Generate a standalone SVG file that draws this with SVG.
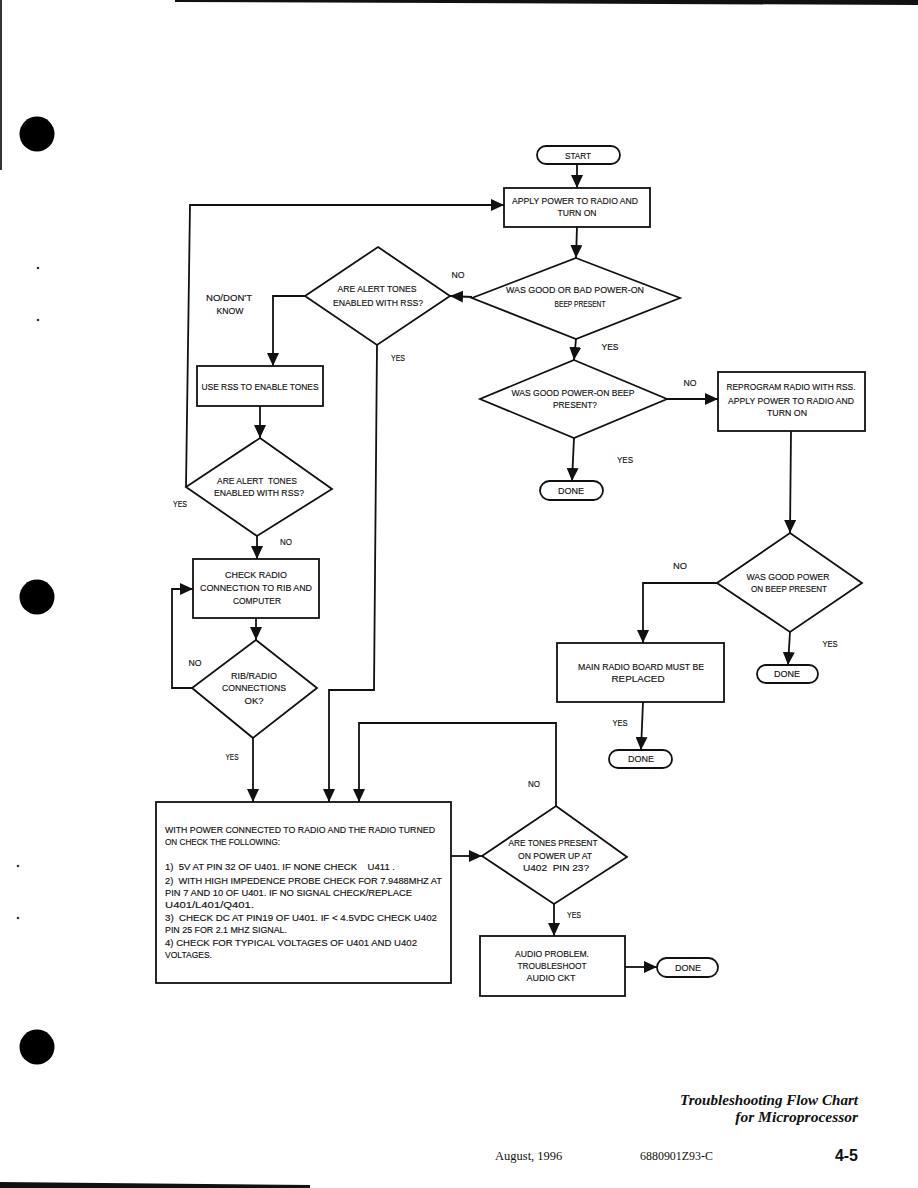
<svg xmlns="http://www.w3.org/2000/svg" width="918" height="1188" viewBox="0 0 918 1188">
<style>
.s{fill:#fff;stroke:#111;stroke-width:1.8}
.c{fill:none;stroke:#111;stroke-width:1.8}
.t{font-family:"Liberation Sans",Arial,sans-serif;font-size:9.5px;fill:#111;stroke:#111;stroke-width:0.15;text-anchor:middle;white-space:pre}
.l{font-family:"Liberation Sans",Arial,sans-serif;font-size:9.5px;fill:#111;stroke:#111;stroke-width:0.15;white-space:pre}
.f{font-family:"Liberation Serif","Times New Roman",serif;fill:#111}
</style>
<defs>
<marker id="a" markerUnits="userSpaceOnUse" markerWidth="14" markerHeight="12" refX="13" refY="6" orient="auto">
<path d="M0,0 L13,6 L0,12 z" fill="#111"/>
</marker>
</defs>
<rect width="918" height="1188" fill="#fff"/>
<g id="scan">
<polygon points="175,0 918,0 918,5 175,2" fill="#111"/>
<rect x="0" y="0" width="2" height="170" fill="#333"/>
<polygon points="0,1182 310,1185 310,1188 0,1188" fill="#111"/>
<circle cx="37" cy="134" r="17.5" fill="#000"/>
<circle cx="37" cy="597" r="17.5" fill="#000"/>
<circle cx="37" cy="1047" r="17.5" fill="#000"/>
<circle cx="38" cy="268" r="1.3" fill="#333"/>
<circle cx="38" cy="320" r="1.3" fill="#333"/>
<circle cx="18" cy="866" r="1.3" fill="#333"/>
<circle cx="18" cy="918" r="1.3" fill="#333"/>
</g>
<g id="connectors">
<line class="c" x1="577" y1="164" x2="577" y2="188" marker-end="url(#a)"/>
<polyline class="c" points="186,487 190,205 504,205" marker-end="url(#a)"/>
<line class="c" x1="577" y1="227" x2="576" y2="258" marker-end="url(#a)"/>
<line class="c" x1="472" y1="297" x2="450" y2="296" marker-end="url(#a)"/>
<line class="c" x1="576" y1="339" x2="574" y2="360" marker-end="url(#a)"/>
<line class="c" x1="667" y1="399" x2="718" y2="399" marker-end="url(#a)"/>
<line class="c" x1="574" y1="438" x2="572" y2="481" marker-end="url(#a)"/>
<line class="c" x1="791" y1="431" x2="790" y2="533" marker-end="url(#a)"/>
<polyline class="c" points="717,583 643,583 643,643" marker-end="url(#a)"/>
<line class="c" x1="790" y1="632" x2="788" y2="665" marker-end="url(#a)"/>
<line class="c" x1="643" y1="702" x2="641" y2="750" marker-end="url(#a)"/>
<polyline class="c" points="305,296 273,296 273,366" marker-end="url(#a)"/>
<polyline class="c" points="377,345 374,690 329,690 329,802" marker-end="url(#a)"/>
<line class="c" x1="260" y1="406" x2="260" y2="438" marker-end="url(#a)"/>
<line class="c" x1="257" y1="536" x2="257" y2="559" marker-end="url(#a)"/>
<line class="c" x1="256" y1="618" x2="256" y2="640" marker-end="url(#a)"/>
<polyline class="c" points="192,688 172,688 172,589 193,589" marker-end="url(#a)"/>
<line class="c" x1="253" y1="738" x2="253" y2="802" marker-end="url(#a)"/>
<polyline class="c" points="556,806 556,723 359,723 359,802" marker-end="url(#a)"/>
<line class="c" x1="451" y1="856" x2="482" y2="856" marker-end="url(#a)"/>
<line class="c" x1="554" y1="904" x2="554" y2="936" marker-end="url(#a)"/>
<line class="c" x1="625" y1="967" x2="657" y2="967" marker-end="url(#a)"/>
</g>
<g id="labels">
<text class="t" x="458" y="278" textLength="13" lengthAdjust="spacingAndGlyphs">NO</text>
<text class="t" x="610" y="350" textLength="17" lengthAdjust="spacingAndGlyphs">YES</text>
<text class="t" x="690" y="386" textLength="13" lengthAdjust="spacingAndGlyphs">NO</text>
<text class="t" x="625" y="463" textLength="16" lengthAdjust="spacingAndGlyphs">YES</text>
<text class="t" x="680" y="569" textLength="14" lengthAdjust="spacingAndGlyphs">NO</text>
<text class="t" x="830" y="647" textLength="15" lengthAdjust="spacingAndGlyphs">YES</text>
<text class="t" x="620" y="726" textLength="15" lengthAdjust="spacingAndGlyphs">YES</text>
<text class="t" x="229" y="301" textLength="46" lengthAdjust="spacingAndGlyphs">NO/DON'T</text>
<text class="t" x="230" y="314" textLength="27" lengthAdjust="spacingAndGlyphs">KNOW</text>
<text class="t" x="398" y="361" textLength="14" lengthAdjust="spacingAndGlyphs">YES</text>
<text class="t" x="180" y="507" textLength="14" lengthAdjust="spacingAndGlyphs">YES</text>
<text class="t" x="286" y="545" textLength="12" lengthAdjust="spacingAndGlyphs">NO</text>
<text class="t" x="195" y="666" textLength="13" lengthAdjust="spacingAndGlyphs">NO</text>
<text class="t" x="232" y="760" textLength="13" lengthAdjust="spacingAndGlyphs">YES</text>
<text class="t" x="534" y="787" textLength="12" lengthAdjust="spacingAndGlyphs">NO</text>
<text class="t" x="574" y="918" textLength="14" lengthAdjust="spacingAndGlyphs">YES</text>
</g>
<g id="start">
<rect class="s" x="537" y="146" width="83" height="18" rx="9"/>
<text class="t" x="578" y="159" textLength="26" lengthAdjust="spacingAndGlyphs">START</text>
</g>
<g id="apply-power">
<rect class="s" x="504" y="188" width="146" height="39"/>
<text class="t" x="575" y="204" textLength="126" lengthAdjust="spacingAndGlyphs">APPLY POWER TO RADIO AND</text>
<text class="t" x="577" y="216" textLength="39" lengthAdjust="spacingAndGlyphs">TURN ON</text>
</g>
<g id="beep-present">
<polygon class="s" points="576,258 680,298 576,339 472,298"/>
<text class="t" x="575" y="293" textLength="138" lengthAdjust="spacingAndGlyphs">WAS GOOD OR BAD POWER-ON</text>
<text class="t" x="580" y="307" textLength="51" lengthAdjust="spacingAndGlyphs">BEEP PRESENT</text>
</g>
<g id="good-beep">
<polygon class="s" points="574,360 667,399 574,438 480,399"/>
<text class="t" x="573" y="396" textLength="123" lengthAdjust="spacingAndGlyphs">WAS GOOD POWER-ON BEEP</text>
<text class="t" x="575" y="408" textLength="44" lengthAdjust="spacingAndGlyphs">PRESENT?</text>
</g>
<g id="reprogram">
<rect class="s" x="718" y="372" width="147" height="59"/>
<text class="t" x="791" y="390" textLength="129" lengthAdjust="spacingAndGlyphs">REPROGRAM RADIO WITH RSS.</text>
<text class="t" x="791" y="404" textLength="126" lengthAdjust="spacingAndGlyphs">APPLY POWER TO RADIO AND</text>
<text class="t" x="787" y="416" textLength="40" lengthAdjust="spacingAndGlyphs">TURN ON</text>
</g>
<g id="done1">
<rect class="s" x="540" y="481" width="63" height="19" rx="9.5"/>
<text class="t" x="571" y="494" textLength="26" lengthAdjust="spacingAndGlyphs">DONE</text>
</g>
<g id="good-power-2">
<polygon class="s" points="790,533 862,583 790,632 717,583"/>
<text class="t" x="788" y="580" textLength="83" lengthAdjust="spacingAndGlyphs">WAS GOOD POWER</text>
<text class="t" x="789" y="592" textLength="76" lengthAdjust="spacingAndGlyphs">ON BEEP PRESENT</text>
</g>
<g id="main-board">
<rect class="s" x="557" y="643" width="167" height="59"/>
<text class="t" x="641" y="670" textLength="126" lengthAdjust="spacingAndGlyphs">MAIN RADIO BOARD MUST BE</text>
<text class="t" x="638" y="682" textLength="53" lengthAdjust="spacingAndGlyphs">REPLACED</text>
</g>
<g id="done2">
<rect class="s" x="757" y="665" width="61" height="18" rx="9"/>
<text class="t" x="787" y="677" textLength="26" lengthAdjust="spacingAndGlyphs">DONE</text>
</g>
<g id="done3">
<rect class="s" x="609" y="750" width="63" height="18" rx="9"/>
<text class="t" x="641" y="762" textLength="26" lengthAdjust="spacingAndGlyphs">DONE</text>
</g>
<g id="alert-tones-1">
<polygon class="s" points="378,247 450,296 377,345 305,296"/>
<text class="t" x="377" y="292" textLength="79" lengthAdjust="spacingAndGlyphs">ARE ALERT TONES</text>
<text class="t" x="378" y="306" textLength="90" lengthAdjust="spacingAndGlyphs">ENABLED WITH RSS?</text>
</g>
<g id="use-rss">
<rect class="s" x="197" y="366" width="126" height="40"/>
<text class="t" x="260" y="390" textLength="117" lengthAdjust="spacingAndGlyphs">USE RSS TO ENABLE TONES</text>
</g>
<g id="alert-tones-2">
<polygon class="s" points="260,438 332,489 257,536 186,487"/>
<text class="t" x="257" y="484" textLength="80" lengthAdjust="spacingAndGlyphs">ARE ALERT  TONES</text>
<text class="t" x="259" y="496" textLength="90" lengthAdjust="spacingAndGlyphs">ENABLED WITH RSS?</text>
</g>
<g id="check-radio">
<rect class="s" x="193" y="559" width="126" height="59"/>
<text class="t" x="256" y="578" textLength="62" lengthAdjust="spacingAndGlyphs">CHECK RADIO</text>
<text class="t" x="256" y="591" textLength="112" lengthAdjust="spacingAndGlyphs">CONNECTION TO RIB AND</text>
<text class="t" x="257" y="604" textLength="48" lengthAdjust="spacingAndGlyphs">COMPUTER</text>
</g>
<g id="rib-ok">
<polygon class="s" points="256,640 317,688 253,738 192,688"/>
<text class="t" x="254" y="679" textLength="46" lengthAdjust="spacingAndGlyphs">RIB/RADIO</text>
<text class="t" x="254" y="691" textLength="64" lengthAdjust="spacingAndGlyphs">CONNECTIONS</text>
<text class="t" x="254" y="704" textLength="19" lengthAdjust="spacingAndGlyphs">OK?</text>
</g>
<g id="check-list">
<rect class="s" x="156" y="802" width="295" height="181"/>
<text class="l" x="165" y="833" textLength="270" lengthAdjust="spacingAndGlyphs">WITH POWER CONNECTED TO RADIO AND THE RADIO TURNED</text>
<text class="l" x="165" y="845" textLength="115" lengthAdjust="spacingAndGlyphs">ON CHECK THE FOLLOWING:</text>
<text class="l" x="165" y="870" textLength="230" lengthAdjust="spacingAndGlyphs">1)  5V AT PIN 32 OF U401. IF NONE CHECK    U411 .</text>
<text class="l" x="165" y="884" textLength="277" lengthAdjust="spacingAndGlyphs">2)  WITH HIGH IMPEDENCE PROBE CHECK FOR 7.9488MHZ AT</text>
<text class="l" x="165" y="896" textLength="247" lengthAdjust="spacingAndGlyphs">PIN 7 AND 10 OF U401. IF NO SIGNAL CHECK/REPLACE</text>
<text class="l" x="165" y="908" textLength="89" lengthAdjust="spacingAndGlyphs">U401/L401/Q401.</text>
<text class="l" x="165" y="921" textLength="272" lengthAdjust="spacingAndGlyphs">3)  CHECK DC AT PIN19 OF U401. IF &lt; 4.5VDC CHECK U402</text>
<text class="l" x="165" y="933" textLength="122" lengthAdjust="spacingAndGlyphs">PIN 25 FOR 2.1 MHZ SIGNAL.</text>
<text class="l" x="165" y="946" textLength="252" lengthAdjust="spacingAndGlyphs">4) CHECK FOR TYPICAL VOLTAGES OF U401 AND U402</text>
<text class="l" x="165" y="958" textLength="47" lengthAdjust="spacingAndGlyphs">VOLTAGES.</text>
</g>
<g id="tones-present">
<polygon class="s" points="556,806 627,857 554,904 482,856"/>
<text class="t" x="553" y="846" textLength="89" lengthAdjust="spacingAndGlyphs">ARE TONES PRESENT</text>
<text class="t" x="555" y="859" textLength="74" lengthAdjust="spacingAndGlyphs">ON POWER UP AT</text>
<text class="t" x="556" y="871" textLength="66" lengthAdjust="spacingAndGlyphs">U402  PIN 23?</text>
</g>
<g id="audio-problem">
<rect class="s" x="480" y="936" width="145" height="60"/>
<text class="t" x="552" y="957" textLength="74" lengthAdjust="spacingAndGlyphs">AUDIO PROBLEM.</text>
<text class="t" x="552" y="969" textLength="69" lengthAdjust="spacingAndGlyphs">TROUBLESHOOT</text>
<text class="t" x="551" y="981" textLength="49" lengthAdjust="spacingAndGlyphs">AUDIO CKT</text>
</g>
<g id="done4">
<rect class="s" x="657" y="958" width="61" height="19" rx="9.5"/>
<text class="t" x="688" y="971" textLength="26" lengthAdjust="spacingAndGlyphs">DONE</text>
</g>
<g id="footer">
<text class="f" x="858" y="1105" font-size="15.5" font-weight="bold" font-style="italic" text-anchor="end" textLength="178" lengthAdjust="spacingAndGlyphs">Troubleshooting Flow Chart</text>
<text class="f" x="858" y="1122" font-size="15.5" font-weight="bold" font-style="italic" text-anchor="end">for Microprocessor</text>
<text class="f" x="495" y="1160" font-size="12.5">August, 1996</text>
<text class="f" x="640" y="1160" font-size="12.5" textLength="73" lengthAdjust="spacingAndGlyphs">6880901Z93-C</text>
<text x="858" y="1161" font-family="Liberation Sans,Arial,sans-serif" font-size="16" font-weight="bold" text-anchor="end" fill="#111">4-5</text>
</g>
</svg>
